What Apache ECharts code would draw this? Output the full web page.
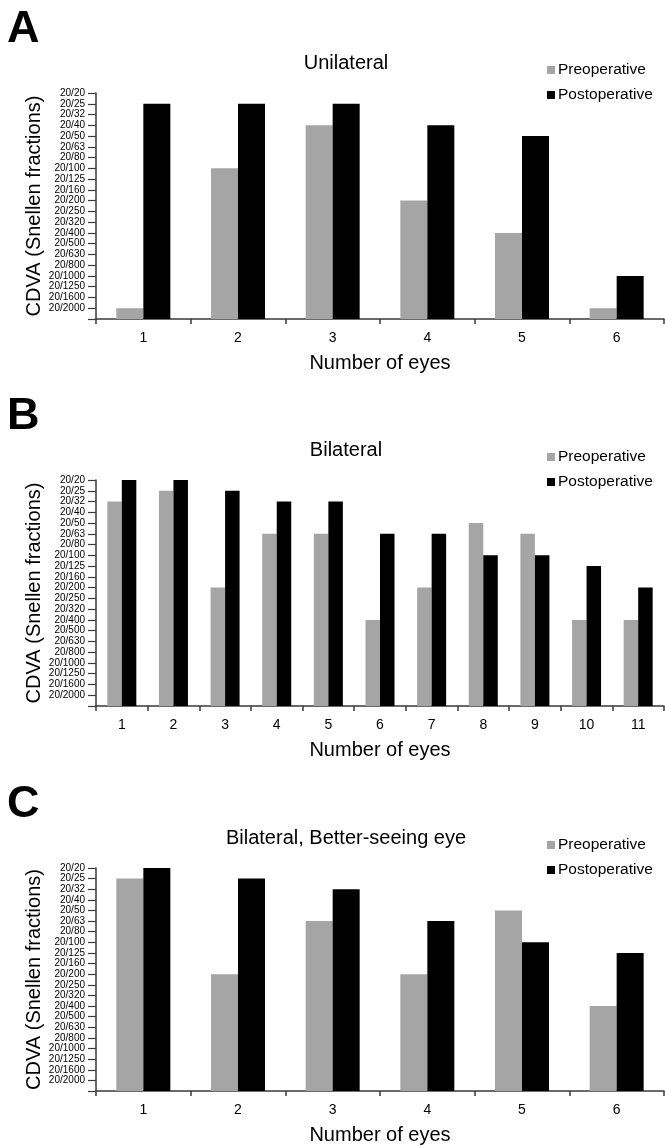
<!DOCTYPE html>
<html>
<head>
<meta charset="utf-8">
<script src="https://cdn.jsdelivr.net/npm/echarts@6/dist/echarts.min.js"></script>
<style>
html,body{margin:0;padding:0;background:#fff;}
#chart{width:665px;height:1146px;}
</style>
</head>
<body>
<div id="chart"></div>
<script>
// Snellen levels, bottom to top
var yLevels = ['20/2000','20/1600','20/1250','20/1000','20/800','20/630','20/500','20/400','20/320','20/250','20/200','20/160','20/125','20/100','20/80','20/63','20/50','20/40','20/32','20/25','20/20'];
var panelTitles = ['Unilateral', 'Bilateral', 'Bilateral, Better-seeing eye'];
var panelLetters = ['A', 'B', 'C'];
var seriesNames = ['Preoperative', 'Postoperative'];

var catsA = ['1','2','3','4','5','6'];
var preA  = ['20/2000','20/100','20/40','20/200','20/400','20/2000'];
var postA = ['20/25','20/25','20/25','20/40','20/50','20/1000'];

var catsB = ['1','2','3','4','5','6','7','8','9','10','11'];
var preB  = ['20/32','20/25','20/200','20/63','20/63','20/400','20/200','20/50','20/63','20/400','20/400'];
var postB = ['20/20','20/20','20/25','20/32','20/32','20/63','20/63','20/100','20/100','20/125','20/200'];

var catsC = ['1','2','3','4','5','6'];
var preC  = ['20/25','20/200','20/63','20/200','20/50','20/400'];
var postC = ['20/20','20/25','20/32','20/63','20/100','20/125'];

var FONT = "'Liberation Sans', Arial, sans-serif";
var AXIS_COLOR = '#3a3a3a';
var colors = ['#a5a5a5', '#000000'];

function toIdx(arr){ return arr.map(function(s){ return yLevels.indexOf(s) + 1; }); }

var panels = [
  {cats: catsA, pre: preA, post: postA, top: 93, height: 226, barW: 27},
  {cats: catsB, pre: preB, post: postB, top: 480, height: 226, barW: 14.5},
  {cats: catsC, pre: preC, post: postC, top: 868, height: 225, barW: 27}
];

var grids = [], xAxes = [], yAxes = [], series = [], titles = [], legends = [];
panels.forEach(function(p, i){
  grids.push({left: 96, right: 1, top: p.top, height: p.height, containLabel: false});
  xAxes.push({
    type: 'category', gridIndex: i, data: p.cats, boundaryGap: true,
    name: 'Number of eyes', nameLocation: 'middle', nameGap: 34, nameMoveOverlap: false,
    nameTextStyle: {fontFamily: FONT, fontSize: 20, color: '#000'},
    axisLine: {lineStyle: {color: AXIS_COLOR, width: 1.5}},
    axisTick: {show: true, length: 5, lineStyle: {color: AXIS_COLOR, width: 1.5}},
    axisLabel: {fontFamily: FONT, fontSize: 14, color: '#000', margin: 12},
    splitLine: {show: false}
  });
  yAxes.push({
    type: 'value', gridIndex: i, min: 0, max: 21, interval: 1,
    name: 'CDVA (Snellen fractions)', nameLocation: 'middle', nameGap: 52, nameMoveOverlap: false,
    nameTextStyle: {fontFamily: FONT, fontSize: 20, color: '#000'},
    axisLine: {show: true, lineStyle: {color: AXIS_COLOR, width: 1.5}},
    axisTick: {show: true, length: 8, lineStyle: {color: AXIS_COLOR, width: 1.2}},
    axisLabel: {
      fontFamily: FONT, fontSize: 10, color: '#000', margin: 11,
      formatter: function(v){ return v === 0 ? '' : (yLevels[v - 1] || ''); }
    },
    splitLine: {show: false}
  });
  series.push({
    name: seriesNames[0], type: 'bar', xAxisIndex: i, yAxisIndex: i,
    data: toIdx(p.pre), barWidth: p.barW, barGap: '0%',
    itemStyle: {color: colors[0]}, animation: false
  });
  series.push({
    name: seriesNames[1], type: 'bar', xAxisIndex: i, yAxisIndex: i,
    data: toIdx(p.post), barWidth: p.barW, barGap: '0%',
    itemStyle: {color: colors[1]}, animation: false
  });
  titles.push({
    text: panelTitles[i], left: 341, top: p.top - 45, textAlign: 'center',
    textStyle: {fontFamily: FONT, fontSize: 20, fontWeight: 'normal', color: '#000'}
  });
  titles.push({
    text: panelLetters[i], left: 2, top: p.top - 91,
    textStyle: {fontFamily: FONT, fontSize: 45, fontWeight: 'bold', color: '#000'}
  });
  legends.push({
    data: seriesNames, orient: 'vertical', left: 542, top: p.top - 36,
    icon: 'rect', itemWidth: 8, itemHeight: 8, itemGap: 9,
    textStyle: {fontFamily: FONT, fontSize: 15.5, color: '#000', padding: [0,0,0,-2]},
    selectedMode: false
  });
});

var chart = echarts.init(document.getElementById('chart'), null, {renderer: 'canvas'});
chart.setOption({
  backgroundColor: '#fff',
  animation: false,
  color: colors,
  title: titles,
  legend: legends,
  grid: grids,
  xAxis: xAxes,
  yAxis: yAxes,
  series: series
});
</script>
</body>
</html>
